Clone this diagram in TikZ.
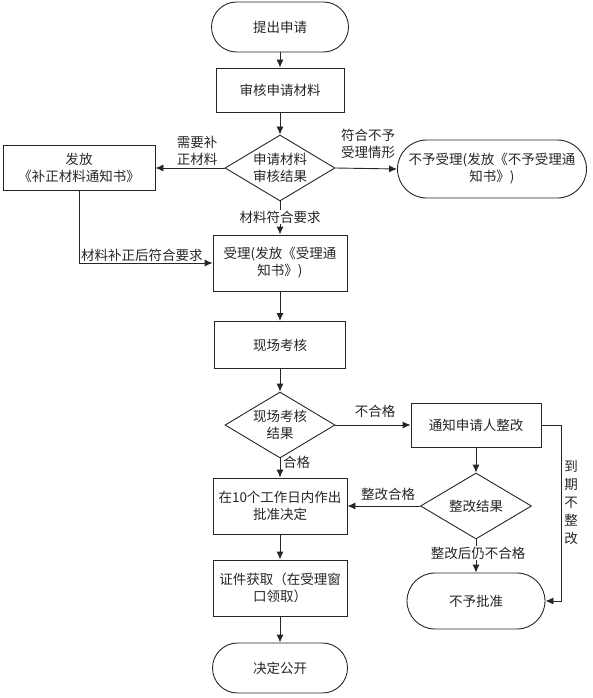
\documentclass[tikz,border=0pt]{standalone}
\usepackage{fontspec}
\newfontfamily\cjk{Noto Sans CJK SC}
\usetikzlibrary{shapes.geometric,arrows.meta}
\tikzset{
  every node/.style={font=\cjk\fontsize{13.5}{17}\selectfont, text=black!85},
  box/.style={draw=black!85, line width=0.9pt, rectangle, inner sep=0pt, align=center, minimum width=#1, minimum height=44pt},
  box/.default=130pt,
  stad/.style={draw=black!85, line width=0.9pt, rectangle, rounded corners=25pt, inner sep=0pt, align=center},
  dia/.style={draw=black!85, line width=0.9pt, diamond, shape aspect=1.67, inner sep=0pt, align=center, minimum width=110pt, minimum height=66pt},
  lbl/.style={inner sep=1pt, align=center},
  arr/.style={draw=black!85, line width=0.9pt, -{Latex[length=8pt,width=7pt]}}
}
\begin{document}
\begin{tikzpicture}[x=1pt,y=-1pt]
\useasboundingbox (0,0) rectangle (592,698);
% nodes
\node[stad, minimum width=137pt, minimum height=50pt] (start) at (280,27) {提出申请};
\node[box=128pt] (sh) at (280,90) {审核申请材料};
\node[dia] (d1) at (280,168) {申请材料\\审核结果};
\node[box=152pt, minimum height=45pt] (fa) at (79,168) {发放\\《补正材料通知书》};
\node[stad, rounded corners=29pt, minimum width=189pt, minimum height=58pt] (nb) at (492,169) {不予受理(发放《不予受理通\\知书》)};
\node[box=134pt, minimum height=56pt] (sl) at (280,263) {受理(发放《受理通\\知书》)};
\node[box=131pt, minimum height=47pt] (xc) at (280,345) {现场考核};
\node[dia] (d2) at (280,425) {现场考核\\结果};
\node[box=130pt] (tz) at (476,425) {通知申请人整改};
\node[box=134pt, minimum height=56pt] (pz) at (280,506) {在10个工作日内作出\\批准决定};
\node[dia, minimum width=111pt] (d3) at (476,506) {整改结果};
\node[stad, rounded corners=28pt, minimum width=138pt, minimum height=56pt] (bz) at (476,601) {不予批准};
\node[box=134pt, minimum height=56pt] (zj) at (280,588) {证件获取（在受理窗\\口领取）};
\node[stad, minimum width=135pt, minimum height=50pt] (gk) at (280,668) {决定公开};
\coordinate (c1) at (561,425);
% connectors
\draw[arr] (start) -- (sh);
\draw[arr] (sh) -- (d1);
\draw[arr] (d1.west) -- (fa.east);
\draw[arr] (d1.east) -- (nb.west);
\draw[arr] (d1.south) -- (sl.north);
\draw[arr] (fa.south) |- (sl.west);
\draw[arr] (sl) -- (xc);
\draw[arr] (xc) -- (d2);
\draw[arr] (d2.east) -- (tz.west);
\draw[arr] (d2.south) -- (pz.north);
\draw[arr] (tz) -- (d3);
\draw[arr] (d3.west) -- (pz.east);
\draw[arr] (d3.south) -- (bz.north);
\draw[arr] (tz.east) -- (c1) |- (bz.east);
\draw[arr] (pz) -- (zj);
\draw[arr] (zj) -- (gk);
% labels
\node[lbl] (l1) at (197,151) {需要补\\正材料};
\node[lbl] (l2) at (368,144) {符合不予\\受理情形};
\node[lbl, fill=white] (l3) at (280,217) {材料符合要求};
\node[lbl, anchor=south west] (l4) at (80,263) {材料补正后符合要求};
\node[lbl] (l5) at (375,411) {不合格};
\node[lbl, anchor=west] (l6) at (282,462) {合格};
\node[lbl] (l7) at (388,494) {整改合格};
\node[lbl, fill=white] (l8) at (478,553) {整改后仍不合格};
\node[lbl, font=\cjk\fontsize{13.5}{18}\selectfont] (l9) at (571,502) {到\\期\\不\\整\\改};
\end{tikzpicture}
\end{document}
